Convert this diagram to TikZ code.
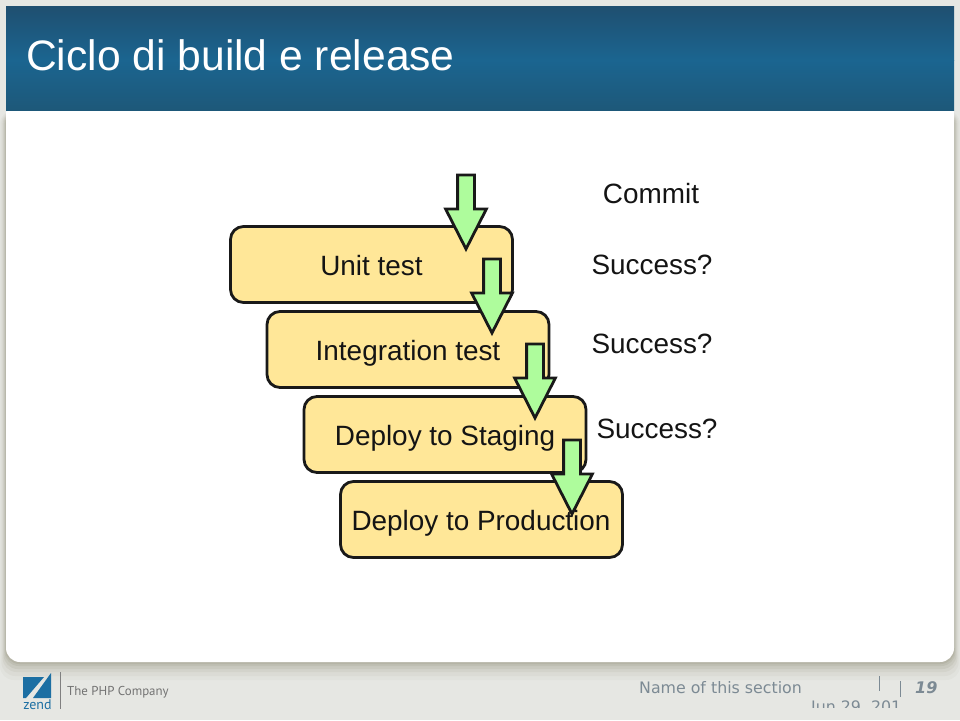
\documentclass[tikz,border=0pt]{standalone}
\usepackage{fontspec}
\setmainfont{Liberation Sans}
\newfontfamily\footfont{DejaVu Sans}
\newfontfamily\companyfont{PT Sans}
\usetikzlibrary{shapes.arrows}
\definecolor{pagegray}{HTML}{E6E7E3}
\definecolor{boxyellow}{HTML}{FFE798}
\definecolor{arrowgreen}{HTML}{AEFC9C}
\definecolor{bandtop}{HTML}{1F4F70}
\definecolor{bandmid}{HTML}{1B6590}
\definecolor{bandlow}{HTML}{1D5879}
\definecolor{footgray}{HTML}{7C8A94}
\definecolor{zendblue}{HTML}{1C6FA3}
\tikzset{
  stagebox/.style={draw=black!90,line width=2.8pt,rounded corners=13pt,fill=boxyellow,
    minimum width=282pt,minimum height=76pt,inner sep=0pt},
  stagearrow/.style={single arrow,draw=black!90,line width=2.8pt,fill=arrowgreen,inner sep=7pt,outer sep=0pt,
    single arrow head extend=12pt,single arrow tip angle=54,minimum height=74pt,
    shape border rotate=270,anchor=tip},
  steptext/.style={font=\fontsize{27.9}{28}\selectfont,text=black!92,inner sep=0pt},
  foottext/.style={font=\footfont\fontsize{15.8}{16}\selectfont,text=footgray,inner sep=0pt}
}
\begin{document}
\begin{tikzpicture}[x=1pt,y=-1pt]
    \useasboundingbox (0,0) rectangle (960,720);
    \fill[pagegray] (0,0) rectangle (960,720);

    % soft shadow under the sheet
    \foreach \d/\o in {18/0.04,14/0.05,10/0.07,7/0.09,4/0.10,2/0.12}
      \fill[black!50!olive!60!gray,opacity=\o,rounded corners=14pt] (6-\d/3,110) rectangle (954+\d/3,662+\d);

    % sheet and title band
    \path[fill=white,rounded corners=14pt] (6,100) -- (6,662) -- (954,662) -- (954,100) -- cycle;
    \shade[top color=bandtop,bottom color=bandmid] (6,6) rectangle (954,60);
    \shade[top color=bandmid,bottom color=bandlow] (6,60) rectangle (954,110);
    \node[anchor=base west,text=white,inner sep=0pt,font=\fontsize{42.6}{43}\selectfont] (title) at (26,70) {Ciclo di build e release};

    % stages
    \node[stagebox] (unit) at (371.5,264.5) {};
    \node[stagebox] (integration) at (408,349.5) {};
    \node[stagebox] (staging) at (445,434.5) {};
    \node[stagebox] (production) at (481.5,519.5) {};

    \node[stagearrow] (commitarrow) at (466,249) {};
    \node[stagearrow] (unitarrow) at (492,333) {};
    \node[stagearrow] (integrationarrow) at (535,418) {};
    \node[stagearrow] (stagingarrow) at (572,514) {};

    \node[steptext] (unitlabel) at (371.5,265.5) {Unit test};
    \node[steptext] (integrationlabel) at (408,353) {Integration test};
    \node[steptext] (staginglabel) at (445,438) {Deploy to Staging};
    \node[steptext] (productionlabel) at (481,523) {Deploy to Production};

    \node[steptext] (commit) at (651,194) {Commit};
    \node[steptext] (success1) at (652,265) {Success?};
    \node[steptext] (success2) at (652,344) {Success?};
    \node[steptext] (success3) at (657,429) {Success?};

    % footer, left side
    \fill[zendblue] (23,677) -- (44,677) -- (26,698) -- (23,698) -- cycle;
    \fill[zendblue] (51,673) -- (51,698) -- (33,698) -- cycle;
    \node[anchor=base,inner sep=0pt,text=zendblue,font=\companyfont\fontsize{14}{14}\selectfont] (zend) at (37.5,709) {zend};
    \draw[gray,line width=0.8pt] (60,672) -- (60,709);
    \node[anchor=base west,inner sep=0pt,text=black!55,font=\companyfont\fontsize{12.9}{13}\selectfont] (company) at (67,695) {The PHP Company};

    % footer, right side
    \node[foottext,anchor=base west] (section) at (639,693) {Name of this section};
    \begin{scope}
      \clip (800,670) rectangle (901,707);
      \node[foottext,anchor=base west] (date) at (811,712) {Jun 29, 2011};
    \end{scope}
    \draw[footgray,line width=0.8pt] (879,676) -- (879,691);
    \draw[footgray,line width=0.8pt] (900,681) -- (900,697);
    \node[anchor=base west,inner sep=0pt,text=footgray,font=\footfont\bfseries\itshape\fontsize{16}{16}\selectfont] (pagenum) at (915,693) {19};
\end{tikzpicture}
\end{document}
